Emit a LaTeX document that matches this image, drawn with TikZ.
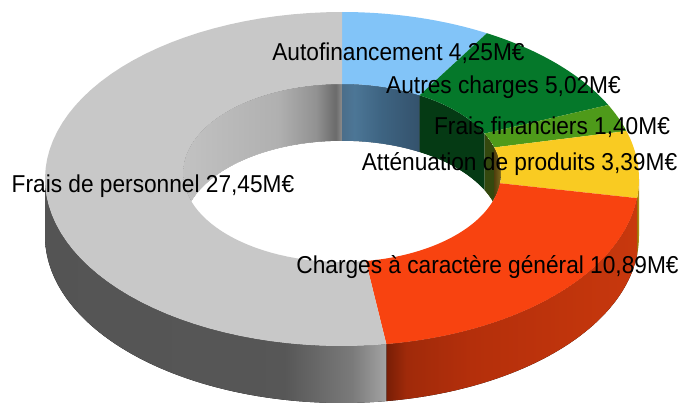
\documentclass[tikz,border=0pt]{standalone}
\usepackage{fontspec}
\setmainfont{Liberation Sans}[FakeStretch=0.93]
\definecolor{cAuto}{HTML}{82C4F8}
\definecolor{cAutres}{HTML}{05782A}
\definecolor{cFin}{HTML}{4E9A1A}
\definecolor{cAtt}{HTML}{F9CB22}
\definecolor{cChg}{HTML}{F84310}
\definecolor{cPers}{HTML}{C8C8C8}
\definecolor{wAutres}{HTML}{053A14}
\definecolor{wFin}{HTML}{34480E}
\definecolor{sAtt}{HTML}{B08A10}
\pgfdeclarehorizontalshading{grayside}{100bp}{color(0bp)=(black!67); color(25bp)=(black!67); color(60bp)=(black!66); color(70bp)=(black!52); color(75bp)=(black!36); color(100bp)=(black!36)}
\pgfdeclarehorizontalshading{redside}{100bp}{color(0bp)=(rgb,255:red,120;green,30;blue,6); color(25bp)=(rgb,255:red,120;green,30;blue,6); color(29bp)=(rgb,255:red,160;green,42;blue,10); color(42bp)=(rgb,255:red,180;green,47;blue,11); color(75bp)=(rgb,255:red,200;green,56;blue,13); color(100bp)=(rgb,255:red,200;green,56;blue,13)}
\pgfdeclarehorizontalshading{graywall}{100bp}{color(0bp)=(black!24); color(25bp)=(black!24); color(55bp)=(black!31); color(67bp)=(black!43); color(73bp)=(black!58); color(75bp)=(black!45); color(100bp)=(black!45)}
\pgfdeclarehorizontalshading{bluewall}{100bp}{color(0bp)=(rgb,255:red,75;green,110;blue,138); color(25bp)=(rgb,255:red,75;green,110;blue,138); color(33bp)=(rgb,255:red,76;green,118;blue,150); color(50bp)=(rgb,255:red,62;green,100;blue,130); color(75bp)=(rgb,255:red,52;green,82;blue,108); color(100bp)=(rgb,255:red,52;green,82;blue,108)}
\pgfdeclarehorizontalshading{attwall}{100bp}{color(0bp)=(rgb,255:red,80;green,64;blue,14); color(25bp)=(rgb,255:red,80;green,64;blue,14); color(75bp)=(rgb,255:red,125;green,105;blue,28); color(100bp)=(rgb,255:red,125;green,105;blue,28)}
\def\dcx{342}
\def\dcyo{179}
\def\dRx{297}
\def\dRy{167}
\def\dcyi{173}
\def\drx{159}
\def\dry{89}
\def\ddep{57}
% top surface sector
\newcommand\topslice[3]{\fill[#3] plot[domain=#1:#2,samples=60,variable=\t] ({\dcx+\dRx*sin(\t)},{\dcyo-\dRy*cos(\t)}) -- plot[domain=#2:#1,samples=60,variable=\t] ({\dcx+\drx*sin(\t)},{\dcyi-\dry*cos(\t)}) -- cycle;}
% outer side strip
\newcommand\sideslice[3]{\fill[#3] plot[domain=#1:#2,samples=60,variable=\t] ({\dcx+\dRx*sin(\t)},{\dcyo-\dRy*cos(\t)}) -- plot[domain=#2:#1,samples=60,variable=\t] ({\dcx+\dRx*sin(\t)},{\dcyo+\ddep-\dRy*cos(\t)}) -- cycle;}
% inner wall strip
\newcommand\wallslice[3]{\fill[#3] plot[domain=#1:#2,samples=40,variable=\t] ({\dcx+\drx*sin(\t)},{\dcyi-\dry*cos(\t)}) -- plot[domain=#2:#1,samples=40,variable=\t] ({\dcx+\drx*sin(\t)},{\dcyi+\ddep-\dry*cos(\t)}) -- cycle;}
\begin{document}
\begin{tikzpicture}[x=1pt,y=-1pt,
  lbl/.style={anchor=base,inner sep=0pt,font=\fontsize{24.4}{28}\selectfont,text=black}]
\useasboundingbox (0,0) rectangle (683,404);
% outer sides (front half)
\sideslice{90}{96.6}{sAtt}
\sideslice{96.595}{171.412}{shading=redside}
\sideslice{171.412}{270}{shading=grayside}
% inner walls (back half), clipped to the hole
\begin{scope}
  \clip plot[domain=0:360,samples=120,variable=\t] ({\dcx+\drx*sin(\t)},{\dcyi-\dry*cos(\t)}) -- cycle;
  \wallslice{-90}{0}{shading=graywall}
  \wallslice{0}{29.198}{shading=bluewall}
  \wallslice{29.198}{63.687}{wAutres}
  \wallslice{63.687}{73.305}{wFin}
  \wallslice{73.305}{90}{shading=attwall}
  \fill[white] plot[domain=0:360,samples=120,variable=\t] ({\dcx+\drx*sin(\t)},{\dcyi+\ddep-\dry*cos(\t)}) -- cycle;
\end{scope}
% top surfaces
\topslice{0}{29.198}{cAuto}
\topslice{29.198}{63.687}{cAutres}
\topslice{63.687}{73.305}{cFin}
\topslice{73.305}{96.595}{cAtt}
\topslice{96.595}{171.412}{cChg}
\topslice{171.412}{360}{cPers}
% labels
\node[lbl] (lAuto) at (398.5,61) {Autofinancement 4,25M€};
\node[lbl] (lAutres) at (503.5,94) {Autres charges 5,02M€};
\node[lbl] (lFin) at (552,134) {Frais financiers 1,40M€};
\node[lbl] (lAtt) at (519.5,170) {Atténuation de produits 3,39M€};
\node[lbl] (lPers) at (153,192) {Frais de personnel 27,45M€};
\node[lbl] (lChg) at (487.5,273) {Charges à caractère général 10,89M€};
\end{tikzpicture}
\end{document}
